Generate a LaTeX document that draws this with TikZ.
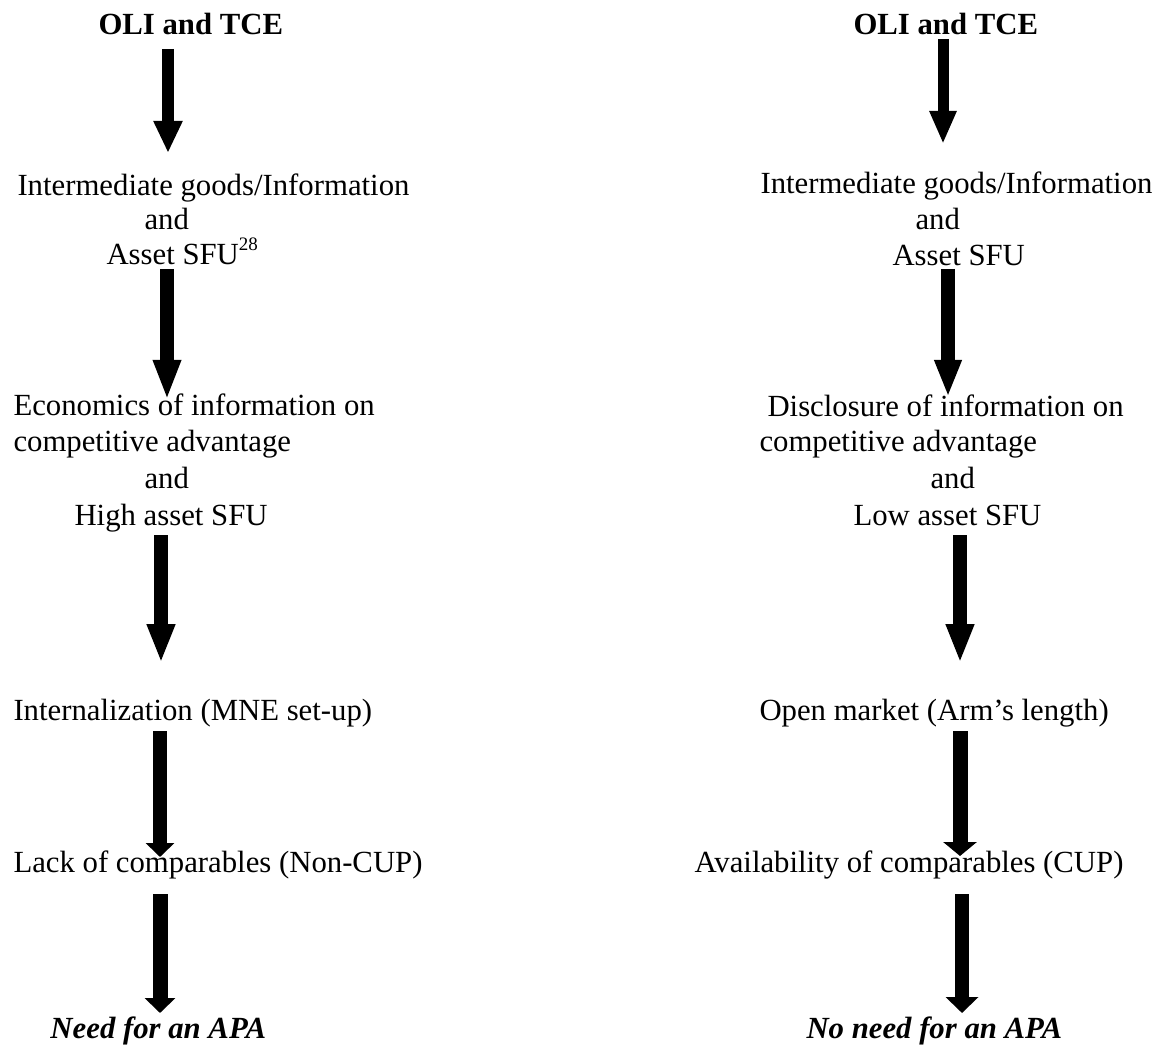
\documentclass[tikz,border=0pt]{standalone}
\usepackage{fontspec}
\setmainfont{Liberation Serif}
\usetikzlibrary{arrows.meta}
\tikzset{
  txt/.style={anchor=base west, inner sep=0pt, font=\fontsize{12.3pt}{14pt}\selectfont},
  btxt/.style={txt, font=\fontsize{12.3pt}{14pt}\selectfont\bfseries},
  bitxt/.style={txt, font=\fontsize{12.3pt}{14pt}\selectfont\bfseries\itshape},
  flowarrow/.style n args={3}{draw=black, line cap=butt, line width=#1, -{Triangle[width=#2, length=#3]}}
}
\begin{document}
\begin{tikzpicture}[x=0.4pt, y=-0.4pt]
\useasboundingbox (0,0) rectangle (1170,1044);
% ---------- left column ----------
\node[btxt] (l0) at (98,35) {OLI and TCE};
\node[txt] (l1a) at (17,196) {Intermediate goods/Information};
\node[txt] (l1b) at (144,230) {and};
\node[txt] (l1c) at (106,265) {Asset SFU\raisebox{1.05ex}{\fontsize{7.6pt}{8pt}\selectfont 28}};
\node[txt] (l2a) at (13,416) {Economics of information on};
\node[txt] (l2b) at (13,451) {competitive advantage};
\node[txt] (l2c) at (144,488) {and};
\node[txt] (l2d) at (74,525) {High asset SFU};
\node[txt] (l3) at (13,720) {Internalization (MNE set-up)};
\node[txt] (l4) at (13,872) {Lack of comparables (Non-CUP)};
\node[bitxt] (l5) at (50,1038) {Need for an APA};
% ---------- right column ----------
\node[btxt] (r0) at (853,35) {OLI and TCE};
\node[txt] (r1a) at (760,194) {Intermediate goods/Information};
\node[txt] (r1b) at (915,230) {and};
\node[txt] (r1c) at (892,266) {Asset SFU};
\node[txt] (r2a) at (767,417) {Disclosure of information on};
\node[txt] (r2b) at (759,452) {competitive advantage};
\node[txt] (r2c) at (930,488) {and};
\node[txt] (r2d) at (853,525) {Low asset SFU};
\node[txt] (r3) at (759,720) {Open market (Arm’s length)};
\node[txt] (r4) at (694,872) {Availability of comparables (CUP)};
\node[bitxt] (r5) at (806,1038) {No need for an APA};
% ---------- arrow end points ----------
\coordinate (la1s) at (168,49);  \coordinate (la1e) at (168,153);
\coordinate (la2s) at (167,269); \coordinate (la2e) at (167,400);
\coordinate (la3s) at (161,535); \coordinate (la3e) at (161,663);
\coordinate (la4s) at (160,731); \coordinate (la4e) at (160,857);
\coordinate (la5s) at (160,894); \coordinate (la5e) at (160,1013);
\coordinate (ra1s) at (943,39);  \coordinate (ra1e) at (943,144);
\coordinate (ra2s) at (948,269); \coordinate (ra2e) at (948,397);
\coordinate (ra3s) at (960,535); \coordinate (ra3e) at (960,663);
\coordinate (ra4s) at (960,731); \coordinate (ra4e) at (960,856);
\coordinate (ra5s) at (962,894); \coordinate (ra5e) at (962,1013);
% ---------- arrows ----------
\draw[flowarrow={4.8pt}{10.8pt}{12.8pt}] (la1s) -- (la1e);
\draw[flowarrow={5.4pt}{10.2pt}{16pt}] (la2s) -- (la2e);
\draw[flowarrow={5.6pt}{10.4pt}{15.6pt}] (la3s) -- (la3e);
\draw[flowarrow={5.6pt}{11.2pt}{5.6pt}] (la4s) -- (la4e);
\draw[flowarrow={6pt}{12pt}{6pt}] (la5s) -- (la5e);
\draw[flowarrow={4.4pt}{10pt}{13.2pt}] (ra1s) -- (ra1e);
\draw[flowarrow={5.6pt}{10pt}{14.8pt}] (ra2s) -- (ra2e);
\draw[flowarrow={5.6pt}{10.4pt}{15.6pt}] (ra3s) -- (ra3e);
\draw[flowarrow={6pt}{13.2pt}{5.6pt}] (ra4s) -- (ra4e);
\draw[flowarrow={5.6pt}{12.8pt}{6.4pt}] (ra5s) -- (ra5e);
\end{tikzpicture}
\end{document}
